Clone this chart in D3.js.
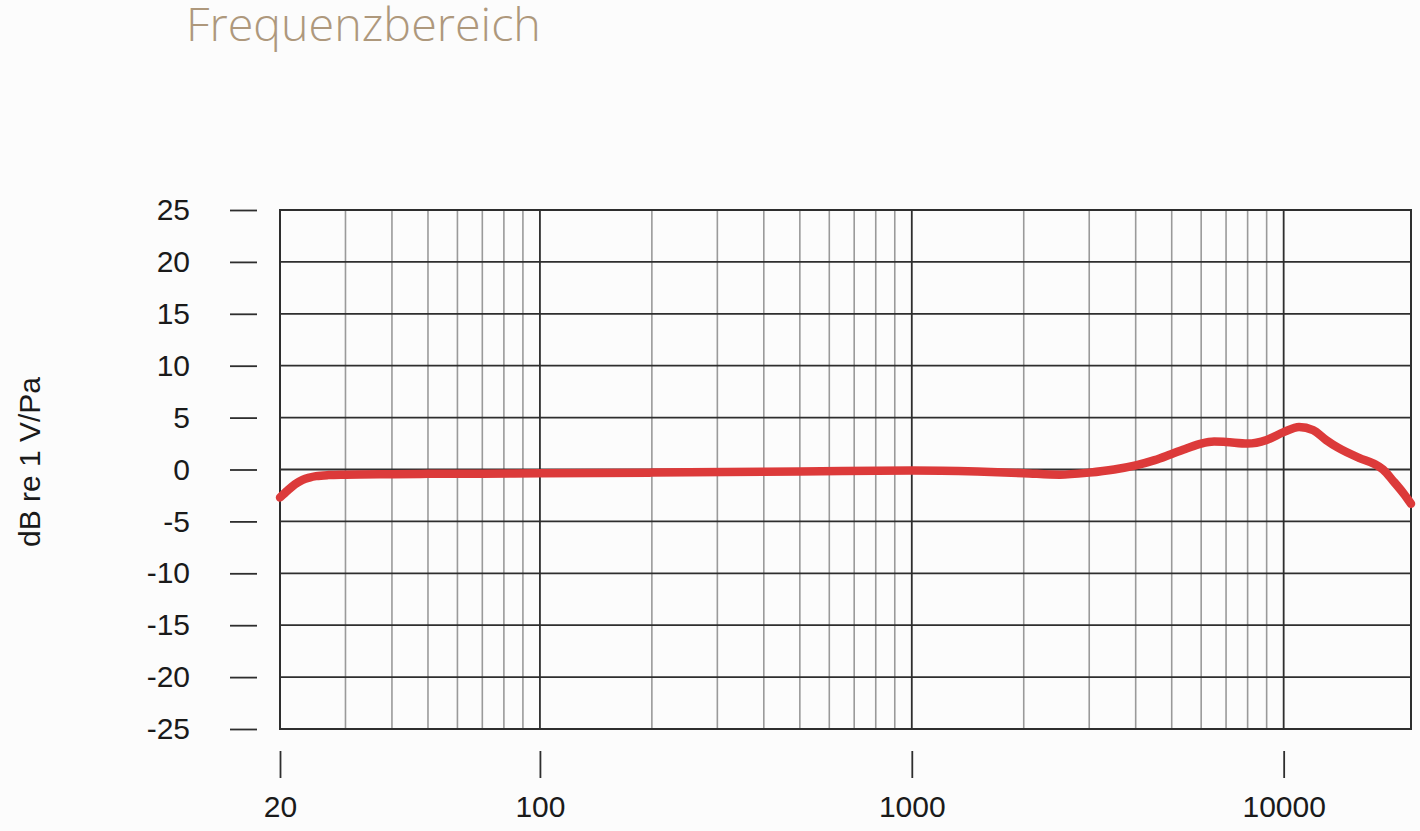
<!DOCTYPE html>
<html>
<head>
<meta charset="utf-8">
<script src="https://cdn.jsdelivr.net/npm/d3@7"></script>
<style>
  html, body { margin: 0; padding: 0; background: #fcfcfc; }
  svg { display: block; }
</style>
</head>
<body>
<svg id="chart" width="1420" height="831"></svg>
<script>
// ---- data ----
const titleText = "Frequenzbereich";
const yAxisLabel = "dB re 1 V/Pa";
const freqDomain = [20, 22000];
const dbDomain = [-25, 25];
const yTickValues = [25, 20, 15, 10, 5, 0, -5, -10, -15, -20, -25];
const xTickValues = [20, 100, 1000, 10000];
const majorGrid = [100, 1000, 10000];
const minorGrid = [30, 40, 50, 60, 70, 80, 90,
                   200, 300, 400, 500, 600, 700, 800, 900,
                   2000, 3000, 4000, 5000, 6000, 7000, 8000, 9000];
const freqs = [20, 21, 22, 23, 24, 25, 27, 30, 40, 50, 70, 100, 200, 500, 1000, 1500, 2000, 2500, 3000, 3500, 4000, 4500, 5000, 5500, 6000, 6500, 7000, 8000, 9000, 10000, 11000, 12000, 13000, 14000, 16000, 17500, 18500, 19700, 21000, 22000];
const dbValues = [-2.7, -2.0, -1.4, -1.0, -0.78, -0.64, -0.54, -0.5, -0.45, -0.42, -0.4, -0.35, -0.3, -0.2, -0.1, -0.2, -0.35, -0.5, -0.3, 0.0, 0.4, 0.9, 1.5, 2.05, 2.5, 2.7, 2.65, 2.5, 2.85, 3.6, 4.1, 3.8, 2.85, 2.1, 1.1, 0.55, 0.0, -1.1, -2.3, -3.3];

// ---- layout ----
const svg = d3.select("#chart");
const pLeft = 280, pRight = 1411, pTop = 210, pBottom = 729;

const x = d3.scaleLog().domain(freqDomain).range([pLeft, pRight]);
const y = d3.scaleLinear().domain(dbDomain).range([pBottom, pTop]);
const fmt = d => String(d);

// background
svg.append("rect").attr("width", 1420).attr("height", 831).attr("fill", "#fcfcfc");

// title
const title = svg.append("text")
  .attr("x", 186).attr("y", 41)
  .attr("fill", "#ae987c")
  .style("font-family", "'Open Sans', sans-serif")
  .style("font-weight", 300)
  .style("font-size", "47px")
  .text(titleText);
const tw = title.node().getComputedTextLength();
title.style("font-size", (47 * 355 / tw) + "px");

const g = svg.append("g");

// minor vertical grid
g.selectAll("line.minor").data(minorGrid).join("line")
  .attr("class", "minor")
  .attr("x1", d => x(d)).attr("x2", d => x(d))
  .attr("y1", pTop).attr("y2", pBottom)
  .attr("stroke", "#9a9a9a").attr("stroke-width", 1.6);

// horizontal grid
g.selectAll("line.h").data(yTickValues).join("line")
  .attr("class", "h")
  .attr("x1", pLeft).attr("x2", pRight)
  .attr("y1", d => y(d)).attr("y2", d => y(d))
  .attr("stroke", "#2e2e2e").attr("stroke-width", 1.8);

// major vertical grid
g.selectAll("line.major").data(majorGrid).join("line")
  .attr("class", "major")
  .attr("x1", d => x(d)).attr("x2", d => x(d))
  .attr("y1", pTop).attr("y2", pBottom)
  .attr("stroke", "#2e2e2e").attr("stroke-width", 1.8);

// frame
g.append("rect")
  .attr("x", pLeft).attr("y", pTop)
  .attr("width", pRight - pLeft).attr("height", pBottom - pTop)
  .attr("fill", "none").attr("stroke", "#2e2e2e").attr("stroke-width", 2);

// y axis ticks (detached)
const yAxis = d3.axisLeft(y).tickValues(yTickValues).tickSize(27).tickPadding(40)
  .tickFormat(fmt);
const ya = svg.append("g").attr("transform", `translate(${pLeft - 23},0)`).call(yAxis);
ya.select(".domain").remove();
ya.selectAll(".tick line").attr("stroke", "#2e2e2e").attr("stroke-width", 1.8);
ya.selectAll(".tick text")
  .attr("fill", "#1a1a1a")
  .style("font-family", "'Liberation Sans', Arial, sans-serif")
  .style("font-size", "30px");

// x axis ticks (detached)
const xAxis = d3.axisBottom(x).tickValues(xTickValues).tickSize(27).tickPadding(18)
  .tickFormat(fmt);
const xa = svg.append("g").attr("transform", `translate(0,${pBottom + 22})`).call(xAxis);
xa.select(".domain").remove();
xa.selectAll(".tick line").attr("stroke", "#2e2e2e").attr("stroke-width", 1.8);
xa.selectAll(".tick text")
  .attr("fill", "#1a1a1a")
  .style("font-family", "'Liberation Sans', Arial, sans-serif")
  .style("font-size", "30px");

// y axis label
svg.append("text")
  .attr("transform", "translate(40,462) rotate(-90)")
  .attr("text-anchor", "middle")
  .attr("fill", "#1a1a1a")
  .style("font-family", "'Liberation Sans', Arial, sans-serif")
  .style("font-size", "30px")
  .text(yAxisLabel);

// response curve
const line = d3.line()
  .x(d => x(d[0])).y(d => y(d[1]))
  .curve(d3.curveMonotoneX);
svg.append("path")
  .datum(freqs.map((f, i) => [f, dbValues[i]]))
  .attr("d", line)
  .attr("fill", "none")
  .attr("stroke", "#dc3a3a")
  .attr("stroke-width", 8.5)
  .attr("stroke-linecap", "round")
  .attr("stroke-linejoin", "round");
</script>
</body>
</html>
